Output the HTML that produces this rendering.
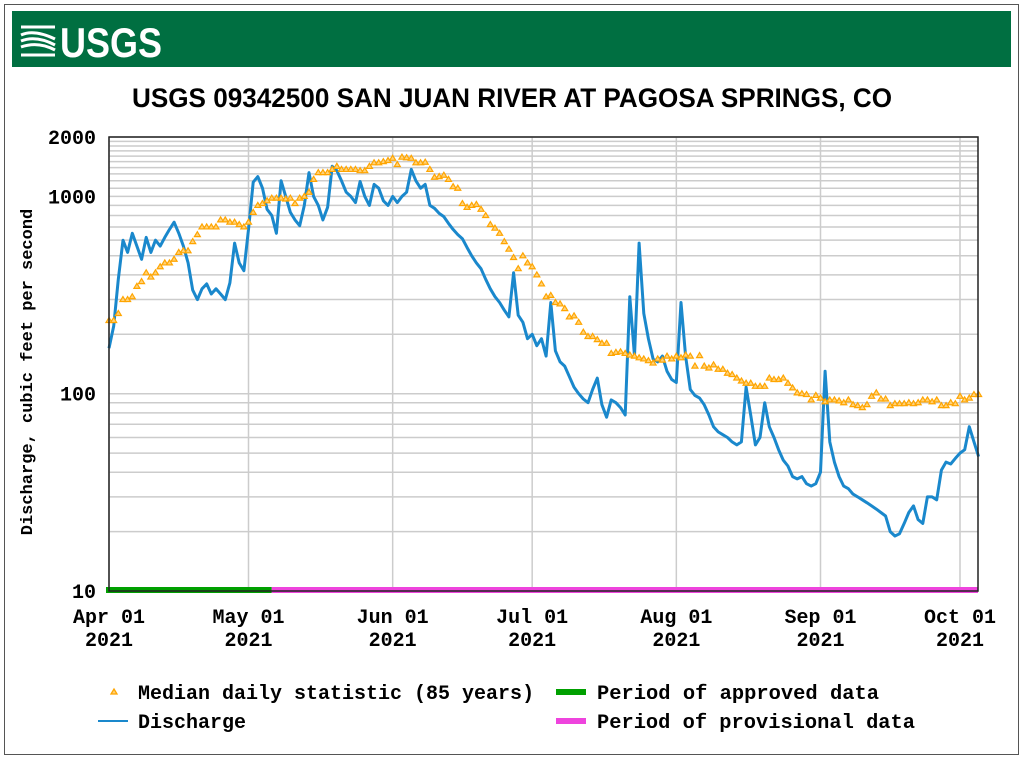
<!DOCTYPE html>
<html><head><meta charset="utf-8"><style>
html,body{margin:0;padding:0;background:#fff;}
svg{display:block;}
.mono{font-family:"Liberation Mono","DejaVu Sans Mono",monospace;font-weight:bold;}
</style></head><body>
<svg id="chart" width="1024" height="760" viewBox="0 0 1024 760" xmlns="http://www.w3.org/2000/svg">
<rect x="4.5" y="4.5" width="1014" height="750" fill="#fff" stroke="#555" stroke-width="1"/>
<g>
<rect x="12" y="11" width="999" height="56" fill="#006F41"/>
<g fill="none" stroke="#fff" stroke-width="3">
<path d="M21 27 L55 27 M21 55 L55 55"/>
<path d="M21 35 Q34 29 55 39 M21 41 Q36 35 55 45 M21 47 Q38 41 55 50"/>
</g>
<text x="60" y="57" fill="#fff" font-family="Liberation Sans, sans-serif" font-weight="bold" font-size="42" textLength="102" lengthAdjust="spacingAndGlyphs">USGS</text>
</g>
<text x="512" y="107" text-anchor="middle" font-family="Liberation Sans, sans-serif" font-weight="bold" font-size="27" textLength="760" lengthAdjust="spacingAndGlyphs" fill="#000">USGS 09342500 SAN JUAN RIVER AT PAGOSA SPRINGS, CO</text>
<g id="grid"></g>
<g id="series"></g>
<g id="axes"></g>
<text class="mono" transform="translate(32,372) rotate(-90)" text-anchor="middle" font-size="17" fill="#000">Discharge, cubic feet per second</text>
<g>
<polygon points="114,689 117,694 111,694" fill="#ffd27a" stroke="#ffa500" stroke-width="1.3"/>
<text class="mono" x="138" y="699" font-size="20">Median daily statistic (85 years)</text>
<line x1="98" y1="721" x2="128" y2="721" stroke="#1a88cc" stroke-width="2"/>
<text class="mono" x="138" y="728" font-size="20">Discharge</text>
<rect x="556" y="689" width="30" height="6" fill="#00a000"/>
<text class="mono" x="597" y="699" font-size="20" textLength="282" lengthAdjust="spacingAndGlyphs">Period of approved data</text>
<rect x="556" y="718" width="30" height="6" fill="#ee44dd"/>
<text class="mono" x="597" y="728" font-size="20" textLength="318" lengthAdjust="spacingAndGlyphs">Period of provisional data</text>
</g>
</svg>
<script>
const xTickLabels = ["Apr 01","May 01","Jun 01","Jul 01","Aug 01","Sep 01","Oct 01"];
const xTickDays = [0,30,61,91,122,153,183];
const yTickValues = [10,100,1000,2000];
const approvedEndDay = 35;
const discharge = [170,220,380,600,520,650,560,480,620,520,600,560,620,680,740,650,560,460,335,300,340,360,320,340,320,300,365,580,460,420,
680,1180,1260,1100,860,800,650,1200,1000,830,760,710,900,1320,1000,900,760,880,1420,1350,1200,1050,1000,930,1190,1000,900,1150,1100,950,900,
1000,930,1000,1050,1370,1200,1100,1150,900,870,820,790,730,680,640,610,550,500,460,430,380,340,310,290,265,245,410,250,230,190,
200,175,190,155,290,165,145,138,122,108,100,94,90,105,120,88,76,93,90,85,78,310,155,580,255,190,150,145,155,130,118,
114,290,155,105,98,95,88,78,68,64,62,60,57,55,57,108,78,55,60,90,68,60,52,46,43,38,37,38,35,34,35,
40,130,57,45,38,34,33,31,30,29,28,27,26,25,24,20,19,19.5,22,25,27,23,22,30,30,29,41,45,44,47,
50,52,68,57,48];
const median = [235,235,255,300,300,310,350,370,410,390,410,440,460,460,480,520,530,530,590,640,700,700,700,700,760,760,740,740,720,700,
740,830,900,920,950,980,980,980,970,980,920,980,1000,1050,1220,1320,1320,1320,1370,1420,1370,1370,1370,1370,1350,1350,1420,1480,1480,1500,1520,
1560,1450,1580,1570,1560,1480,1480,1490,1370,1250,1260,1280,1220,1120,1100,920,880,900,910,860,800,720,690,650,590,540,490,430,500,460,
440,400,360,310,315,290,285,270,245,248,230,205,195,195,188,180,180,160,162,163,160,157,155,152,150,147,143,150,148,155,150,
155,152,157,155,138,156,138,135,140,133,133,127,125,120,116,113,113,109,109,109,120,118,118,120,113,107,101,100,99,93,98,
95,91,93,93,92,90,93,88,87,85,88,97,101,94,94,87,89,89,89,90,89,90,93,93,91,93,87,87,90,89,
97,93,95,99,99];

const NS="http://www.w3.org/2000/svg";
const X0=109,X1=978,Y0=137,Y1=591,PXDAY=(960-109)/183;
const xs=d=>X0+d*PXDAY;
const ys=v=>Y1-(Math.log10(v)-1)*(Y1-Y0)/(Math.log10(2000)-1);
function mk(tag,attrs,parent){const e=document.createElementNS(NS,tag);for(const k in attrs)e.setAttribute(k,attrs[k]);parent.appendChild(e);return e;}
const grid=document.getElementById('grid'),series=document.getElementById('series'),axes=document.getElementById('axes');
mk('rect',{x:X0,y:Y0,width:X1-X0,height:Y1-Y0,fill:'#fff'},grid);
const gv=[];
for(let v=20;v<100;v+=10)gv.push(v);
for(let v=100;v<1000;v+=100)gv.push(v);
for(let v=1000;v<=2000;v+=100)gv.push(v);
gv.forEach(v=>{const l=mk('line',{x1:X0,x2:X1,y1:ys(v),y2:ys(v),stroke:'#cccccc','stroke-width':1.5},grid);

});
xTickDays.forEach(d=>{const l=mk('line',{x1:xs(d),x2:xs(d),y1:Y0,y2:Y1,stroke:'#cccccc','stroke-width':1.5},grid);

});
let pts=discharge.map((v,i)=>xs(i).toFixed(1)+','+ys(v).toFixed(1)).join(' ');
const dl=mk('polyline',{points:pts,fill:'none',stroke:'#1a88cc','stroke-width':3,'stroke-linejoin':'round'},series);


median.forEach((v,i)=>{const x=xs(i),y=ys(v);
const p=mk('polygon',{points:`${x},${y-3} ${x+3},${y+2} ${x-3},${y+2}`,fill:'#ffd27a',stroke:'#ffa500','stroke-width':1.2},series);

});
const ab=mk('rect',{x:X0-3,y:Y1-4,width:xs(approvedEndDay)-X0+3,height:6,fill:'#00a000'},axes);


const pb=mk('rect',{x:xs(approvedEndDay),y:Y1-4,width:X1-xs(approvedEndDay),height:6,fill:'#ee44dd'},axes);


mk('path',{d:`M${X0},${Y1} L${X0},${Y0} L${X1},${Y0} L${X1},${Y1} Z`,fill:'none',stroke:'#222','stroke-width':1.5},axes);
yTickValues.forEach(v=>{const t=mk('text',{x:96,y:ys(v)+7,'text-anchor':'end','font-size':20,class:'mono'},axes);t.textContent=String(v);

});
xTickDays.forEach((d,i)=>{const t=mk('text',{x:xs(d),y:623,'text-anchor':'middle','font-size':20,class:'mono'},axes);t.textContent=xTickLabels[i];


const t2=mk('text',{x:xs(d),y:646,'text-anchor':'middle','font-size':20,class:'mono'},axes);t2.textContent='2021';

});
</script>
</body></html>
